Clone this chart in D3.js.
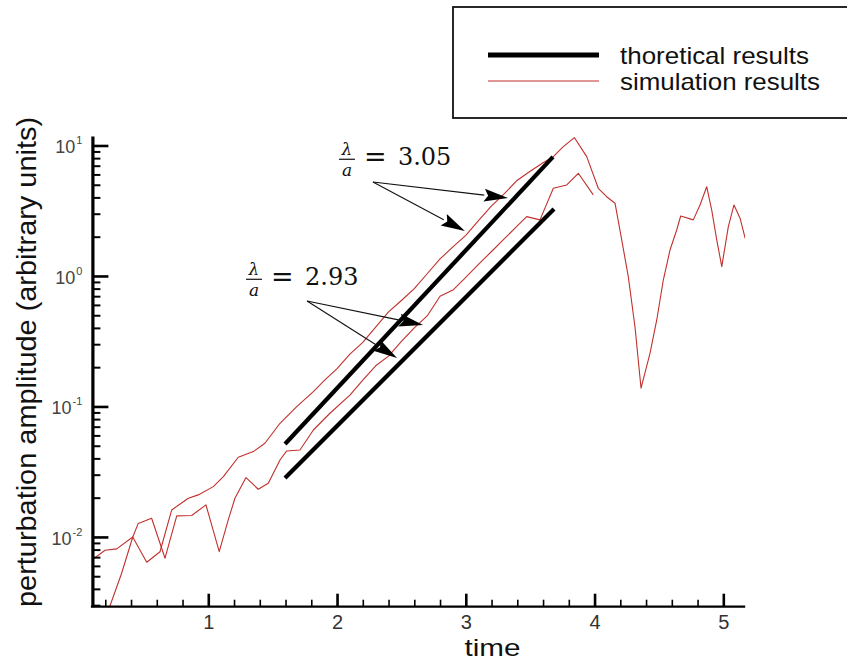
<!DOCTYPE html>
<html><head><meta charset="utf-8">
<script src="https://cdn.jsdelivr.net/npm/d3@7"></script>
<style>body{margin:0;background:#fff;} svg{display:block;}</style>
</head><body><svg id="c" width="847" height="661"></svg>
<script>
// ---- data ----
const simUpperTime = [0.10,0.198,0.289,0.413,0.522,0.625,0.716,0.845,0.922,1.039,1.117,1.233,1.350,1.440,1.557,1.687,1.816,1.9,2.0,2.1,2.2,2.3,2.4,2.5,2.6,2.7,2.8,2.9,3.0,3.1,3.2,3.3,3.4,3.5,3.6,3.68,3.755,3.843,3.939,4.029,4.094,4.159,4.211,4.262,4.314,4.361,4.431,4.483,4.534,4.586,4.638,4.669,4.767,4.819,4.871,4.910,4.949,4.988,5.039,5.083,5.130,5.17];
const simUpperAmp = [0.0067,0.0079,0.0081,0.0100,0.0064,0.0077,0.0161,0.0198,0.0210,0.0243,0.0290,0.0408,0.0451,0.0522,0.0743,0.0996,0.130,0.158,0.195,0.252,0.31,0.405,0.53,0.649,0.80,1.04,1.35,1.67,2.05,2.67,3.45,4.28,5.42,6.34,7.38,8.2,9.75,11.5,8.21,4.70,4.05,3.61,1.89,0.988,0.408,0.138,0.256,0.460,0.931,1.58,2.25,2.88,2.69,3.50,4.83,3.20,1.89,1.18,2.39,3.50,2.77,1.94];
const simLowerTime = [0.20,0.327,0.413,0.456,0.560,0.664,0.755,0.871,0.982,1.085,1.155,1.207,1.293,1.388,1.466,1.557,1.609,1.712,1.816,1.945,2.1,2.2,2.3,2.4,2.5,2.6,2.7,2.8,2.9,3.0,3.1,3.2,3.3,3.4,3.473,3.576,3.680,3.784,3.874,3.990];
const simLowerAmp = [0.00235,0.00527,0.00995,0.0127,0.0139,0.00687,0.0145,0.0146,0.0176,0.00771,0.0135,0.0198,0.0285,0.0232,0.0258,0.0389,0.0456,0.0464,0.0660,0.0887,0.122,0.159,0.205,0.243,0.315,0.40,0.494,0.70,0.78,0.977,1.23,1.54,1.93,2.42,2.85,2.69,4.70,4.98,6.12,4.18];
const theoryHighTime = [1.596, 3.677];
const theoryHighAmp = [0.0516, 8.17];
const theoryLowTime = [1.596, 3.685];
const theoryLowAmp = [0.0283, 3.26];
const xMajorTicks = [1,2,3,4,5];
const xMinorTicks = [0.2,0.4,0.6,0.8,1.2,1.4,1.6,1.8,2.2,2.4,2.6,2.8,3.2,3.4,3.6,3.8,4.2,4.4,4.6,4.8];
const yMajorTicks = [0.01,0.1,1,10];
const yTickExponents = ["-2","-1","0","1"];
const legendLabels = ["thoretical results","simulation results"];
const xTitle = "time";
const yTitle = "perturbation amplitude (arbitrary units)";
// annotations: fraction-bar centre (time, amplitude), value text, arrow start and tips
const annLabels = ["3.05","2.93"];
const annAnchorTime = [2.077, 1.355];
const annAnchorAmp = [7.84, 0.943];
const annStartTime = [2.279, 1.767];
const annStartAmp = [5.25, 0.643];
const annTipTime = [[3.328, 2.993],[2.668, 2.466]];
const annTipAmp = [[3.96, 2.21],[0.421, 0.235]];

// ---- setup ----
const svg = d3.select("#c");
const W = 847, H = 661;
const pL = 92.4, pR = 745.2, pT = 136.1, pB = 606.7;
const x = d3.scaleLinear().domain([0.1, 5.17]).range([pL, pR]);
const y = d3.scaleLog().domain([0.00292, 11.8]).range([pB, pT]);
const sans = "'Liberation Sans', Arial, Helvetica, sans-serif";
const serif = "'DejaVu Serif', serif";

svg.append("rect").attr("width", W).attr("height", H).attr("fill", "#fff");

svg.append("defs").append("clipPath").attr("id","clip")
  .append("rect").attr("x", pL).attr("y", pT - 2).attr("width", pR - pL).attr("height", pB - pT + 2);

// ---- data lines ----
const line = d3.line().x(d => x(d[0])).y(d => y(d[1]));
const plot = svg.append("g").attr("clip-path","url(#clip)");
const simColor = "#c0302c";
plot.append("path").datum(d3.zip(simUpperTime, simUpperAmp)).attr("d", line)
  .attr("fill","none").attr("stroke", simColor).attr("stroke-width",1.1).attr("stroke-linejoin","round");
plot.append("path").datum(d3.zip(simLowerTime, simLowerAmp)).attr("d", line)
  .attr("fill","none").attr("stroke", simColor).attr("stroke-width",1.1).attr("stroke-linejoin","round");
plot.append("path").datum(d3.zip(theoryHighTime, theoryHighAmp)).attr("d", line)
  .attr("fill","none").attr("stroke","#000").attr("stroke-width",4.2);
plot.append("path").datum(d3.zip(theoryLowTime, theoryLowAmp)).attr("d", line)
  .attr("fill","none").attr("stroke","#000").attr("stroke-width",4.2);

// ---- axes ----
const xMinor = svg.append("g").attr("transform", `translate(0,${pB})`)
  .call(d3.axisBottom(x).tickValues(xMinorTicks).tickSizeInner(-7).tickSizeOuter(0).tickFormat(""));
xMinor.select(".domain").remove();
xMinor.selectAll(".tick line").attr("stroke","#000").attr("stroke-width",1.6);

const xAx = svg.append("g").attr("transform", `translate(0,${pB})`)
  .call(d3.axisBottom(x).tickValues(xMajorTicks).tickSizeInner(-13).tickSizeOuter(0).tickPadding(8).tickFormat(d3.format("d")));
xAx.select(".domain").attr("stroke","#000").attr("stroke-width",2.2).attr("d", `M${pL-1.5},0H${pR}`);
xAx.selectAll(".tick line").attr("stroke","#000").attr("stroke-width",2.6);
xAx.selectAll(".tick text").attr("font-family", sans).attr("font-size", 20).attr("fill","#333");

const yMinorVals = [];
for (let k = -3; k <= 1; k++) for (let m = 2; m <= 9; m++) {
  const v = m * Math.pow(10, k);
  if (v >= 0.00292 && v <= 11.8) yMinorVals.push(v);
}
const yMinor = svg.append("g").attr("transform", `translate(${pL},0)`)
  .call(d3.axisLeft(y).tickValues(yMinorVals).tickSizeInner(-8).tickSizeOuter(0).tickFormat(""));
yMinor.select(".domain").remove();
yMinor.selectAll(".tick line").attr("stroke","#000").attr("stroke-width",2);

const yAx = svg.append("g").attr("transform", `translate(${pL},0)`)
  .call(d3.axisLeft(y).tickValues(yMajorTicks).tickSizeInner(-16).tickSizeOuter(0).tickFormat(""));
yAx.select(".domain").attr("stroke","#000").attr("stroke-width",3.2);
yAx.selectAll(".tick line").attr("stroke","#000").attr("stroke-width",2.6);
yAx.selectAll(".tick text").remove();
yAx.selectAll(".tick").each(function(d) {
  const t = d3.select(this).append("text")
    .attr("x", -10).attr("y", 7.5).attr("text-anchor","end")
    .attr("font-family", sans).attr("fill","#444");
  t.append("tspan").attr("font-size", 18).text("10");
  t.append("tspan").attr("font-size", 11).attr("dy", -9).attr("dx", 1).text(yTickExponents[yMajorTicks.indexOf(d)]);
});

// ---- axis titles ----
svg.append("text").attr("x", (x(3) + x(3.4)) / 2 + 1).attr("y", 656)
  .attr("text-anchor","middle").attr("font-family", sans).attr("font-size", 24).attr("fill","#111")
  .attr("textLength", 56).attr("lengthAdjust","spacingAndGlyphs")
  .text(xTitle);
svg.append("text").attr("transform", `translate(36,${(117 + 607) / 2}) rotate(-90)`)
  .attr("text-anchor","middle").attr("font-family", sans).attr("font-size", 28).attr("fill","#111")
  .attr("textLength", 490).attr("lengthAdjust","spacingAndGlyphs")
  .text(yTitle);

// ---- legend ----
const lg = svg.append("g");
lg.append("rect").attr("x", 453).attr("y", 7).attr("width", 420).attr("height", 111)
  .attr("fill","#fff").attr("stroke","#111").attr("stroke-width",1.8);
lg.append("line").attr("x1", 488).attr("x2", 599).attr("y1", 55).attr("y2", 55)
  .attr("stroke","#000").attr("stroke-width",5);
lg.append("line").attr("x1", 488).attr("x2", 599).attr("y1", 81).attr("y2", 81)
  .attr("stroke", simColor).attr("stroke-width",1.2);
lg.append("text").attr("x", 620).attr("y", 63.5).attr("font-family", sans).attr("font-size", 24)
  .attr("fill","#111").attr("textLength", 189).attr("lengthAdjust","spacingAndGlyphs").text(legendLabels[0]);
lg.append("text").attr("x", 620).attr("y", 90).attr("font-family", sans).attr("font-size", 24)
  .attr("fill","#111").attr("textLength", 200).attr("lengthAdjust","spacingAndGlyphs").text(legendLabels[1]);

// ---- annotations ----
const ann = svg.append("g");
annLabels.forEach((lab, i) => {
  const fx = x(annAnchorTime[i]), fy = y(annAnchorAmp[i]);
  ann.append("text").attr("x", fx).attr("y", fy - 4.5).attr("text-anchor","middle")
    .attr("font-family", serif).attr("font-style","italic").attr("font-size", 17).attr("fill","#111").text("λ");
  ann.append("line").attr("x1", fx - 8).attr("x2", fx + 8).attr("y1", fy).attr("y2", fy)
    .attr("stroke","#111").attr("stroke-width",1.2);
  ann.append("text").attr("x", fx).attr("y", fy + 16.5).attr("text-anchor","middle")
    .attr("font-family", serif).attr("font-style","italic").attr("font-size", 17).attr("fill","#111").text("a");
  ann.append("text").attr("x", fx + 17).attr("y", fy + 6.5)
    .attr("font-family", serif).attr("font-size", 27).attr("fill","#111").text("=");
  ann.append("text").attr("x", fx + 51).attr("y", fy + 5.5)
    .attr("font-family", serif).attr("font-size", 24).attr("fill","#111").text(lab);
  const sx = x(annStartTime[i]), sy = y(annStartAmp[i]);
  annTipTime[i].forEach((tt, j) => {
    const tx = x(tt), ty = y(annTipAmp[i][j]);
    const dx = tx - sx, dy = ty - sy, len = Math.hypot(dx, dy);
    const ux = dx / len, uy = dy / len;
    const hl = 24, hw = 6.5;
    const bx = tx - ux * hl, by = ty - uy * hl;
    ann.append("line").attr("x1", sx).attr("y1", sy).attr("x2", bx).attr("y2", by)
      .attr("stroke","#111").attr("stroke-width",1.1);
    ann.append("path")
      .attr("d", `M${tx},${ty}L${bx - uy * hw},${by + ux * hw}L${bx + ux * 4},${by + uy * 4}L${bx + uy * hw},${by - ux * hw}Z`)
      .attr("fill","#000");
  });
});
</script>
</body></html>
